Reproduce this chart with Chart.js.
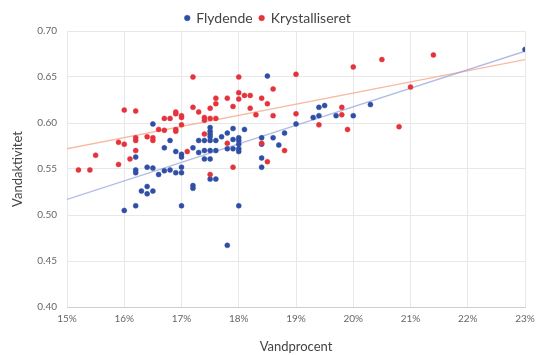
<!DOCTYPE html>
<html>
<head>
<meta charset="utf-8">
<script src="https://cdn.jsdelivr.net/npm/chart.js@4"></script>
<style>
  html, body { margin: 0; padding: 0; background: #ffffff; }
  #wrap { width: 536px; height: 355px; }
</style>
</head>
<body>
<div id="wrap"><canvas id="c" width="536" height="355"></canvas></div>
<script>
// Water content (%) vs. water activity for liquid and crystallised honey
const flydendeX = [16.5,16.8,16.7,16.2,16.2,16.2,16.4,16.5,16.6,16.7,16.8,16.9,17.0,17.0,16.9,17.0,17.0,16.4,16.3,16.4,16.5,16.0,16.2,17.0,17.2,17.2,17.2,17.3,17.4,17.5,17.5,17.5,17.5,17.5,17.6,17.4,17.5,17.6,17.4,17.5,17.5,17.6,17.7,17.8,17.9,18.1,17.8,17.9,18.0,18.0,18.0,18.0,18.0,17.9,18.0,17.8,18.4,18.4,18.4,18.4,18.6,18.7,18.8,19.0,18.5,19.4,19.5,19.3,19.4,19.7,20.0,20.3,23.0,17.3];
const flydendeY = [0.599,0.581,0.573,0.563,0.549,0.546,0.552,0.551,0.544,0.548,0.549,0.546,0.546,0.552,0.569,0.566,0.563,0.531,0.526,0.523,0.526,0.505,0.510,0.510,0.532,0.529,0.573,0.581,0.581,0.595,0.591,0.588,0.585,0.581,0.581,0.570,0.570,0.570,0.561,0.561,0.539,0.539,0.585,0.589,0.594,0.593,0.572,0.572,0.572,0.584,0.581,0.577,0.569,0.582,0.510,0.467,0.584,0.577,0.562,0.552,0.584,0.576,0.589,0.599,0.651,0.617,0.619,0.606,0.608,0.608,0.608,0.620,0.680,0.568];

const krystalX = [15.2,15.4,15.5,15.9,15.9,16.0,16.0,16.2,16.2,16.2,16.2,16.1,16.4,16.5,16.5,16.6,16.7,16.7,16.8,16.9,16.9,16.9,16.9,17.0,17.0,17.0,17.1,17.2,17.2,17.3,17.4,17.4,17.5,17.5,17.6,17.6,17.6,17.5,17.8,17.8,18.0,19.0,20.0,18.0,18.0,18.1,18.2,17.9,18.2,18.4,18.5,18.6,18.3,18.6,19.0,19.4,19.8,19.8,19.9,18.4,18.8,18.5,17.9,20.5,21.4,21.0,20.8,17.4];
const krystalY = [0.549,0.549,0.565,0.555,0.579,0.577,0.614,0.613,0.584,0.581,0.570,0.561,0.585,0.584,0.581,0.593,0.605,0.592,0.605,0.612,0.610,0.593,0.591,0.608,0.606,0.598,0.569,0.650,0.617,0.612,0.606,0.603,0.616,0.605,0.627,0.621,0.605,0.544,0.627,0.578,0.650,0.653,0.661,0.633,0.626,0.630,0.630,0.618,0.616,0.627,0.621,0.637,0.609,0.608,0.610,0.598,0.617,0.609,0.593,0.578,0.570,0.558,0.552,0.669,0.674,0.639,0.596,0.588];

// Linear trend lines, end points at the axis limits
const trendX = [15, 23];
const flydendeTrendY = [0.517, 0.678];
const krystalTrendY = [0.572, 0.669];

const xTicks = [15, 16, 17, 18, 19, 20, 21, 22, 23];
const yTicks = [0.40, 0.45, 0.50, 0.55, 0.60, 0.65, 0.70];

const pts = (xs, ys) => xs.map((x, i) => ({ x: x, y: ys[i] }));

const BLUE = '#2f4fa6';
const RED = '#e5333b';
const FONT = 'Lato, "Open Sans", sans-serif';

// Nudge the legend a few pixels down without moving the plot area
const legendNudge = {
  id: 'legendNudge',
  afterLayout(chart) {
    if (chart.legend) {
      chart.legend.top += 4;
      chart.legend.bottom += 4;
    }
  }
};

new Chart(document.getElementById('c'), {
  type: 'scatter',
  data: {
    datasets: [
      {
        label: 'Flydende',
        data: pts(flydendeX, flydendeY),
        backgroundColor: BLUE,
        borderColor: BLUE,
        borderWidth: 0.5,
        pointRadius: 2.5,
        order: 2
      },
      {
        label: 'Krystalliseret',
        data: pts(krystalX, krystalY),
        backgroundColor: RED,
        borderColor: RED,
        borderWidth: 0.5,
        pointRadius: 2.5,
        order: 1
      },
      {
        label: 'trend-flydende',
        data: pts(trendX, flydendeTrendY),
        showLine: true,
        borderColor: 'rgba(150,165,220,0.75)',
        borderWidth: 1.3,
        pointRadius: 0,
        order: 3
      },
      {
        label: 'trend-krystalliseret',
        data: pts(trendX, krystalTrendY),
        showLine: true,
        borderColor: 'rgba(245,170,140,0.8)',
        borderWidth: 1.3,
        pointRadius: 0,
        order: 3
      }
    ]
  },
  plugins: [legendNudge],
  options: {
    responsive: false,
    animation: false,
    devicePixelRatio: 1,
    layout: { padding: { top: 0, right: 0, left: 0, bottom: 0 } },
    plugins: {
      legend: {
        position: 'top',
        labels: {
          usePointStyle: true,
          pointStyle: 'circle',
          boxWidth: 4,
          boxHeight: 4,
          padding: 7,
          color: '#444',
          font: { family: FONT, size: 14 },
          filter: (item) => item.datasetIndex < 2,
          sort: (a, b) => a.datasetIndex - b.datasetIndex
        }
      },
      tooltip: { enabled: false }
    },
    scales: {
      x: {
        type: 'linear',
        min: 15,
        max: 23,
        afterBuildTicks: (axis) => { axis.ticks = xTicks.map(v => ({ value: v })); },
        ticks: {
          color: '#666',
          font: { family: FONT, size: 10 },
          padding: 6,
          callback: (v) => v + '%'
        },
        grid: { color: '#e8e8e8', drawTicks: false },
        border: { color: '#cfcfcf' },
        title: {
          display: true,
          text: 'Vandprocent',
          color: '#444',
          font: { family: FONT, size: 13 },
          padding: { top: 8, bottom: 0 }
        },
        afterFit: (axis) => { axis.height = 48; axis.paddingRight = 11; }
      },
      y: {
        type: 'linear',
        min: 0.40,
        max: 0.70,
        afterBuildTicks: (axis) => { axis.ticks = yTicks.map(v => ({ value: v })); },
        ticks: {
          color: '#666',
          font: { family: FONT, size: 10 },
          padding: 10,
          callback: (v) => Number(v).toFixed(2)
        },
        grid: { color: '#e8e8e8', drawTicks: false },
        border: { display: false },
        title: {
          display: true,
          text: 'Vandaktivitet',
          color: '#444',
          font: { family: FONT, size: 13 },
          padding: { top: 10, bottom: 0 }
        },
        afterFit: (axis) => { axis.width = 67; }
      }
    }
  }
});
</script>
</body>
</html>
